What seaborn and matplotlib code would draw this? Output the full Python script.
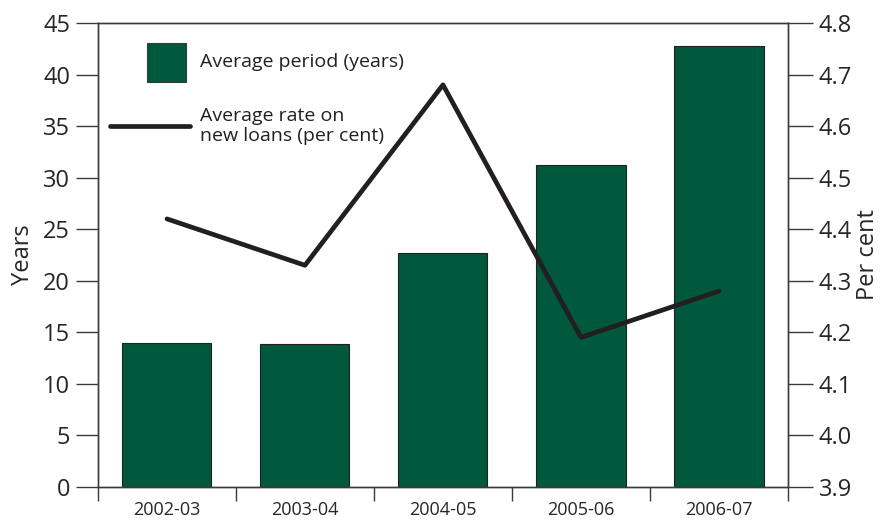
import matplotlib
matplotlib.use("Agg")
import matplotlib.pyplot as plt
import seaborn as sns
import pandas as pd
from matplotlib.patches import Rectangle
from matplotlib.lines import Line2D

# data
years = ["2002-03", "2003-04", "2004-05", "2005-06", "2006-07"]
avg_period = [14.0, 13.9, 22.7, 31.2, 42.8]
avg_rate = [4.42, 4.33, 4.68, 4.19, 4.28]

df = pd.DataFrame({"year": years, "period": avg_period, "rate": avg_rate})

sns.set_style("white")
plt.rcParams["font.family"] = ["Open Sans", "DejaVu Sans"]

green = "#00583d"
dark = "#231f20"
spine_col = "#3a3a3a"

fig = plt.figure(figsize=(8.85, 5.2), dpi=100)
ax = fig.add_axes([0.1107, 0.0635, 0.7797, 0.8923])

sns.barplot(data=df, x="year", y="period", color=green, width=0.645,
            edgecolor=dark, linewidth=0.8, saturation=1, ax=ax)
ax.set_ylim(0, 45)
ax.set_xlim(-0.5, 4.5)
ax.set_yticks(range(0, 46, 5))
ax.set_ylabel("Years", fontsize=17, labelpad=6)
ax.set_xlabel("")

ax2 = ax.twinx()
sns.lineplot(data=df, x="year", y="rate", color=dark, linewidth=3.4,
             sort=False, ax=ax2)
ax2.set_ylim(3.9, 4.8)
ax2.set_yticks([3.9 + 0.1 * i for i in range(10)])
ax2.set_yticklabels([f"{3.9 + 0.1 * i:.1f}" for i in range(10)])
ax2.set_ylabel("Per cent", fontsize=17, labelpad=3)
ax2.set_xlabel("")
ax2.set_xlim(-0.5, 4.5)

for a in (ax, ax2):
    for s in a.spines.values():
        s.set_color(spine_col)
        s.set_linewidth(1.0)

ax.tick_params(axis="y", direction="out", length=16, width=1, color=spine_col,
               labelsize=17, pad=4, left=True)
ax2.tick_params(axis="y", direction="out", length=18, width=1, color=spine_col,
                labelsize=17, pad=4, right=True)

# category labels at centres, tick marks at boundaries
ax.set_xticks(range(len(years)))
ax.set_xticklabels(years)
ax.set_xticks([i - 0.5 for i in range(len(years) + 1)], minor=True)
ax.tick_params(axis="x", which="major", length=0, labelsize=13, pad=10)
ax.tick_params(axis="x", which="minor", direction="out", length=10, width=1,
               color=spine_col, bottom=True)

# legend drawn by hand to match the original layout
ax.add_patch(Rectangle((0.071, 0.873), 0.0565, 0.084, transform=ax.transAxes,
                       facecolor=green, edgecolor=spine_col, linewidth=0.8,
                       clip_on=False, zorder=5))
ax.text(0.148, 0.916, "Average period (years)", transform=ax.transAxes,
        fontsize=14, va="center", ha="left", color=dark)
ax.add_line(Line2D([0.017, 0.133], [0.778, 0.778], transform=ax.transAxes,
                   color=dark, linewidth=3.4, solid_capstyle="round"))
ax.text(0.148, 0.778, "Average rate on\nnew loans (per cent)",
        transform=ax.transAxes, fontsize=14, va="center", ha="left",
        color=dark, linespacing=1.15)

fig.savefig("out.png", dpi=100)
